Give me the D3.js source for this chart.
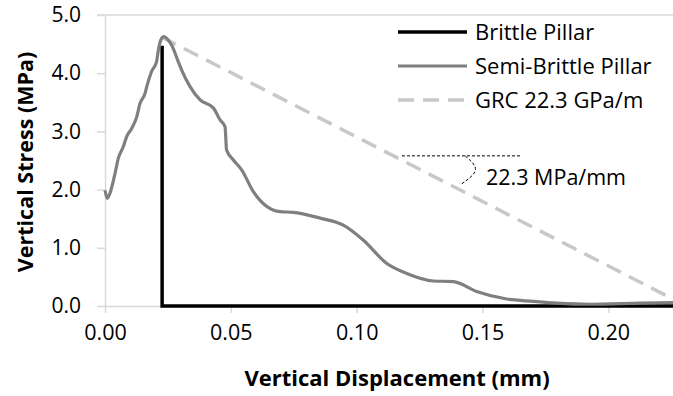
<!DOCTYPE html>
<html>
<head>
<meta charset="utf-8">
<script src="https://cdn.jsdelivr.net/npm/d3@7"></script>
<style>
  body { margin: 0; background: #fff; }
  text { font-family: "Open Sans", sans-serif; fill: #000; }
</style>
</head>
<body>
<div id="chart"></div>
<script>
// Data
const semiX = [0.0000, 0.0009, 0.0020, 0.0040, 0.0053, 0.0073, 0.0086, 0.0106, 0.0126, 0.0139,
  0.0159, 0.0166, 0.0185, 0.0205, 0.0212, 0.0225, 0.0232, 0.0265, 0.0291, 0.0305,
  0.0338, 0.0378, 0.0431, 0.0457, 0.0477, 0.0483, 0.0510, 0.0543, 0.0590, 0.0696,
  0.0748, 0.0855, 0.0947, 0.1027, 0.1120, 0.1199, 0.1305, 0.1384, 0.1477, 0.1596,
  0.1702, 0.1795, 0.1928, 0.2126, 0.2257];
const semiY = [1.99, 1.85, 1.94, 2.28, 2.54, 2.74, 2.91, 3.05, 3.25, 3.48,
  3.65, 3.77, 4.03, 4.20, 4.40, 4.60, 4.63, 4.48, 4.20, 4.05,
  3.77, 3.54, 3.40, 3.20, 3.08, 2.68, 2.51, 2.34, 1.96, 1.62,
  1.61, 1.51, 1.39, 1.13, 0.73, 0.56, 0.43, 0.42, 0.25, 0.12,
  0.08, 0.05, 0.03, 0.05, 0.06];
const brittleX = [0.0227, 0.0227, 0.2257];
const brittleY = [4.47, 0.0, 0.0];
const grcX = [0.0225, 0.2257];
const grcY = [4.62, 0.12];
const seriesNames = ["Brittle Pillar", "Semi-Brittle Pillar", "GRC 22.3 GPa/m"];
const xTicks = [0, 0.05, 0.10, 0.15, 0.20];
const yTicks = [0, 1, 2, 3, 4, 5];
// slope annotation: guide line, bracket arc, label
const guideX = [0.118, 0.165];
const guideY = [2.58, 2.58];
const arcX = [0.1431, 0.1472, 0.1418];
const arcY = [2.58, 2.34, 2.10];
const slopeLabel = "22.3 MPa/mm";

const width = 673, height = 396;
const margin = { top: 15, right: 0, bottom: 90, left: 105 };

const x = d3.scaleLinear().domain([0, 0.2257]).range([margin.left, width - margin.right]);
const y = d3.scaleLinear().domain([0, 5]).range([height - margin.bottom, margin.top]);

const svg = d3.select("#chart").append("svg")
  .attr("width", width)
  .attr("height", height);

const axisColor = "#d9d9d9";

// top line at 5.0
svg.append("line")
  .attr("x1", x(0) - 8).attr("x2", x.range()[1])
  .attr("y1", y(5)).attr("y2", y(5))
  .attr("stroke", axisColor).attr("stroke-width", 1.5);

// Y axis
const yAxis = svg.append("g")
  .attr("transform", `translate(${x(0)},0)`)
  .call(d3.axisLeft(y).tickValues(yTicks).tickFormat(d3.format(".1f")).tickSize(8).tickSizeOuter(0).tickPadding(16));
yAxis.selectAll("path, line").attr("stroke", axisColor).attr("stroke-width", 1.5);
yAxis.selectAll("text").style("font-size", "21px").attr("fill", "#000");

// X axis
const xAxis = svg.append("g")
  .attr("transform", `translate(0,${y(0)})`)
  .call(d3.axisBottom(x).tickValues(xTicks).tickFormat(d3.format(".2f")).tickSize(7).tickSizeOuter(0).tickPadding(12));
xAxis.selectAll("path, line").attr("stroke", axisColor).attr("stroke-width", 1.5);
xAxis.selectAll("text").style("font-size", "21.5px").attr("fill", "#000");

// Axis titles
svg.append("text")
  .attr("x", 397).attr("y", 386)
  .attr("text-anchor", "middle")
  .style("font-size", "22px").style("font-weight", "bold")
  .text("Vertical Displacement (mm)");
svg.append("text")
  .attr("transform", "translate(33,162) rotate(-90)")
  .attr("text-anchor", "middle")
  .style("font-size", "21.5px").style("font-weight", "bold")
  .text("Vertical Stress (MPa)");

const line = d3.line().x(d => x(d[0])).y(d => y(d[1]));
const zip = (a, b) => a.map((v, i) => [v, b[i]]);

const styles = [
  { color: "#000000", width: 3.5, dash: null },
  { color: "#7f7f7f", width: 3.2, dash: null },
  { color: "#c8c8c8", width: 3.5, dash: "16,9" }
];

// GRC dashed line (drawn first, under the curves)
svg.append("path")
  .datum(zip(grcX, grcY))
  .attr("d", line)
  .attr("fill", "none")
  .attr("stroke", styles[2].color)
  .attr("stroke-width", styles[2].width)
  .attr("stroke-dasharray", styles[2].dash);

// Brittle
svg.append("path")
  .datum(zip(brittleX, brittleY))
  .attr("d", line)
  .attr("fill", "none")
  .attr("stroke", styles[0].color)
  .attr("stroke-width", styles[0].width);

// Semi-brittle
svg.append("path")
  .datum(zip(semiX, semiY))
  .attr("d", line.curve(d3.curveMonotoneX))
  .attr("fill", "none")
  .attr("stroke", styles[1].color)
  .attr("stroke-width", styles[1].width)
  .attr("stroke-linejoin", "round");
line.curve(d3.curveLinear);

// Slope annotation
svg.append("path")
  .datum(zip(guideX, guideY))
  .attr("d", line)
  .attr("fill", "none")
  .attr("stroke", "#000")
  .attr("stroke-width", 1)
  .attr("stroke-dasharray", "3,2");
svg.append("path")
  .datum(zip(arcX, arcY))
  .attr("d", d3.line().x(d => x(d[0])).y(d => y(d[1])).curve(d3.curveNatural))
  .attr("fill", "none")
  .attr("stroke", "#000")
  .attr("stroke-width", 1)
  .attr("stroke-dasharray", "3,2");
svg.append("text")
  .attr("x", x(0.1514)).attr("y", 185)
  .style("font-size", "21.5px")
  .text(slopeLabel);

// Legend
const legend = svg.append("g");
seriesNames.forEach((name, i) => {
  const ly = 32 + i * 34;
  legend.append("line")
    .attr("x1", 398).attr("x2", 467)
    .attr("y1", ly).attr("y2", ly)
    .attr("stroke", styles[i].color)
    .attr("stroke-width", styles[i].width)
    .attr("stroke-dasharray", styles[i].dash);
  legend.append("text")
    .attr("x", 475).attr("y", ly)
    .attr("dy", "0.35em")
    .style("font-size", "22px")
    .text(name);
});
</script>
</body>
</html>
